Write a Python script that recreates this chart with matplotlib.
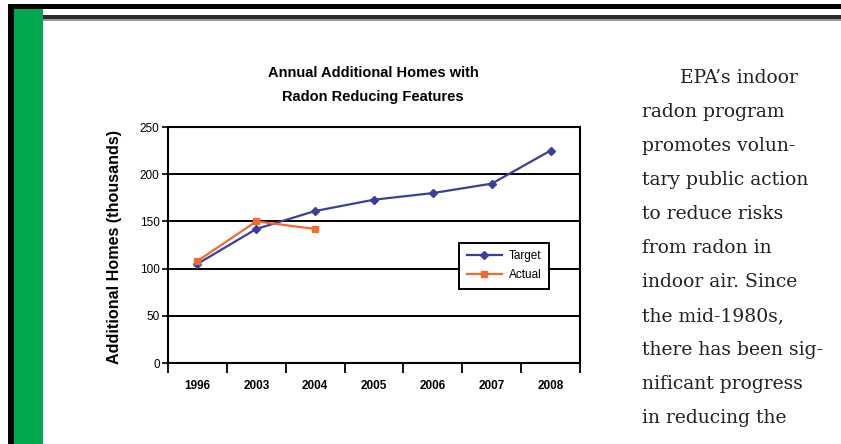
import matplotlib
matplotlib.use('Agg')
import matplotlib.pyplot as plt
from matplotlib.patches import Rectangle

# data (thousands of homes)
years = ['1996', '2003', '2004', '2005', '2006', '2007', '2008']
target = [105, 142, 161, 173, 180, 190, 225]
actual = [108, 150, 142]
y_ticks = [0, 50, 100, 150, 200, 250]

title_lines = ['Annual Additional Homes with', 'Radon Reducing Features']
y_label = 'Additional Homes (thousands)'
side_text = ['EPA\u2019s indoor', 'radon program', 'promotes volun-',
             'tary public action', 'to reduce risks', 'from radon in',
             'indoor air. Since', 'the mid-1980s,', 'there has been sig-',
             'nificant progress', 'in reducing the']

W, H = 841, 444
fig = plt.figure(figsize=(W / 100, H / 100), dpi=100)
fig.patch.set_facecolor('white')

def fx(x):
    return x / W

def fy(y):
    return 1 - y / H

def box(x0, y0, x1, y1, color):
    fig.add_artist(Rectangle((fx(x0), fy(y1)), fx(x1) - fx(x0), fy(y0) - fy(y1),
                             transform=fig.transFigure, color=color, lw=0))

# page decoration
box(8, 4, W, 9.5, 'black')
box(8, 4, 13.5, H, 'black')
box(13.5, 9.5, 43, H, '#00A950')
box(43, 15.5, W, 20.5, '#2a2a2a')
box(43, 19.5, W, 21, '#9a9a9a')

# chart
ax = fig.add_axes([fx(168), fy(363), fx(580) - fx(168), fy(127) - fy(363)])
x = list(range(len(years)))
ax.plot(x, target, color='#3B3F98', lw=1.6, marker='D', ms=3.8, label='Target', zorder=3)
ax.plot(x[:len(actual)], actual, color='#F26A2E', lw=1.6, marker='s', ms=3.8,
        label='Actual', zorder=3)

ax.set_xlim(-0.5, len(years) - 0.5)
ax.set_ylim(0, 250)
ax.set_yticks(y_ticks)
ax.set_yticklabels([str(v) for v in y_ticks], fontsize=8.5, family='Liberation Sans')
ax.yaxis.grid(True, color='black', lw=1.4)
ax.set_axisbelow(True)
ax.tick_params(axis='y', length=4, width=1.2, pad=2)

ax.set_xticks([i - 0.5 for i in range(len(years) + 1)])
ax.set_xticklabels([])
ax.set_xticks(x, minor=True)
ax.set_xticklabels(years, minor=True, fontsize=8.5, fontweight='bold', family='Liberation Sans')
ax.tick_params(axis='x', which='major', length=7, width=1.3)
ax.tick_params(axis='x', which='minor', length=0, pad=12)

for s in ax.spines.values():
    s.set_linewidth(1.5)
    s.set_color('black')

leg = ax.legend(loc='upper left', bbox_to_anchor=(0.706, 0.51), fancybox=False,
                edgecolor='black', framealpha=1, prop={'family': 'Liberation Sans', 'size': 8.5},
                handlelength=3.0, borderpad=0.65, labelspacing=0.6, handletextpad=0.6,
                borderaxespad=0)
leg.get_frame().set_linewidth(1.4)
leg.set_zorder(5)

fig.text(fx(373), fy(73), title_lines[0], ha='center', va='center', fontsize=10.5,
         fontweight='bold', family='Liberation Sans')
fig.text(fx(373), fy(97), title_lines[1], ha='center', va='center', fontsize=10.5,
         fontweight='bold', family='Liberation Sans')
fig.text(fx(115), fy(247), y_label, ha='center', va='center', rotation=90, fontsize=11.6,
         fontweight='bold', family='Liberation Sans')

# column of body text on the right
for i, line in enumerate(side_text):
    xl = 680 if i == 0 else 642
    fig.text(fx(xl), fy(78 + 34 * i), line, ha='left', va='center', fontsize=13.5,
             family='DejaVu Serif', color='#222222')

fig.savefig('out.png', dpi=100)
